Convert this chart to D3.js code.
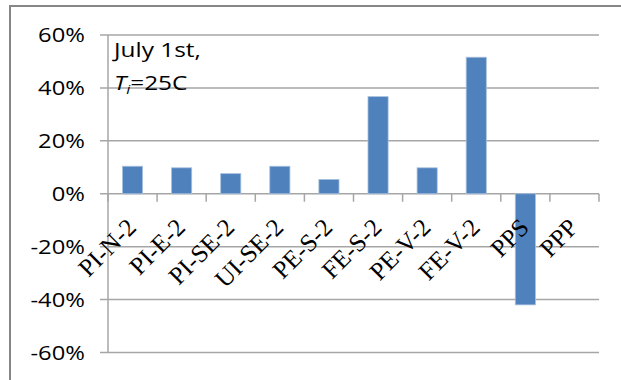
<!DOCTYPE html>
<html>
<head>
<meta charset="utf-8">
<script src="https://cdn.jsdelivr.net/npm/d3@7"></script>
<style>
  body { margin: 0; background: #fff; }
  svg { display: block; }
</style>
</head>
<body>
<svg id="chart" width="621" height="380"></svg>
<script>
// data
const categories = ["PI-N-2", "PI-E-2", "PI-SE-2", "UI-SE-2", "PE-S-2", "FE-S-2", "PE-V-2", "FE-V-2", "PPS", "PPP"];
const values = [0.104, 0.098, 0.076, 0.104, 0.054, 0.367, 0.098, 0.516, -0.42, 0];
const yTicks = [-0.6, -0.4, -0.2, 0, 0.2, 0.4, 0.6];

const width = 621, height = 380;
const plotLeft = 108, plotRight = 599, plotTop = 35, plotBottom = 352.5;
const stretch = 1.22; // the source picture is stretched sideways a bit

const svg = d3.select("#chart");

// outer frame (only top and left edges are in view)
svg.append("rect")
    .attr("x", 10).attr("y", 6)
    .attr("width", width + 20).attr("height", height + 20)
    .attr("fill", "#fff")
    .attr("stroke", "#868686")
    .attr("stroke-width", 2);

const x = d3.scaleBand().domain(categories).range([plotLeft, plotRight]).padding(0);
const y = d3.scaleLinear().domain([-0.6, 0.6]).range([plotBottom, plotTop]);

// gridlines with outward ticks
svg.append("g").selectAll("line")
    .data(yTicks)
    .join("line")
    .attr("x1", plotLeft - 8).attr("x2", plotRight)
    .attr("y1", d => y(d)).attr("y2", d => y(d))
    .attr("stroke", "#a6a6a6")
    .attr("stroke-width", 1.5);

// y axis line
svg.append("line")
    .attr("x1", plotLeft).attr("x2", plotLeft)
    .attr("y1", plotTop).attr("y2", plotBottom)
    .attr("stroke", "#a6a6a6")
    .attr("stroke-width", 1.5);

// bars
const barW = x.bandwidth() * 0.41;
svg.append("g").selectAll("rect")
    .data(values)
    .join("rect")
    .attr("x", (d, i) => x(categories[i]) + x.bandwidth() / 2 - barW / 2)
    .attr("y", d => y(Math.max(0, d)))
    .attr("width", barW)
    .attr("height", d => Math.abs(y(d) - y(0)))
    .attr("fill", "#4f81bd")
    .attr("stroke", "#a7c0de")
    .attr("stroke-width", 0.8);

// category ticks below zero line
const bounds = categories.map(c => x(c)).concat([plotRight]);
svg.append("g").selectAll("line")
    .data(bounds)
    .join("line")
    .attr("x1", d => d).attr("x2", d => d)
    .attr("y1", y(0)).attr("y2", y(0) + 8)
    .attr("stroke", "#a6a6a6")
    .attr("stroke-width", 1.5);

// y labels
svg.append("g").selectAll("text")
    .data(yTicks)
    .join("text")
    .attr("transform", d => `translate(85,${y(d) + 7}) scale(${stretch},1)`)
    .attr("text-anchor", "end")
    .attr("font-family", "Open Sans")
    .attr("font-size", 19.5)
    .attr("fill", "#000")
    .text(d => d3.format(".0%")(d).replace("−", "-"));

// x labels, rotated
svg.append("g").selectAll("text")
    .data(categories)
    .join("text")
    .attr("transform", d => `translate(${x(d) + x.bandwidth() / 2 + 5},229) rotate(-45)`)
    .attr("text-anchor", "end")
    .attr("font-family", "Liberation Serif")
    .attr("font-size", 25)
    .attr("fill", "#000")
    .text(d => d);

// annotation
const note = svg.append("g")
    .attr("font-family", "Open Sans")
    .attr("font-size", 20)
    .attr("fill", "#000");
note.append("text")
    .attr("transform", `translate(114,57) scale(${stretch},1)`)
    .text("July 1st,");
const t2 = note.append("text")
    .attr("transform", `translate(114,90) scale(${stretch},1)`);
t2.append("tspan").attr("font-style", "italic").text("T");
t2.append("tspan").attr("font-style", "italic").attr("font-size", 13).attr("dy", 4).text("i");
t2.append("tspan").attr("dy", -4).text("=25C");
</script>
</body>
</html>
